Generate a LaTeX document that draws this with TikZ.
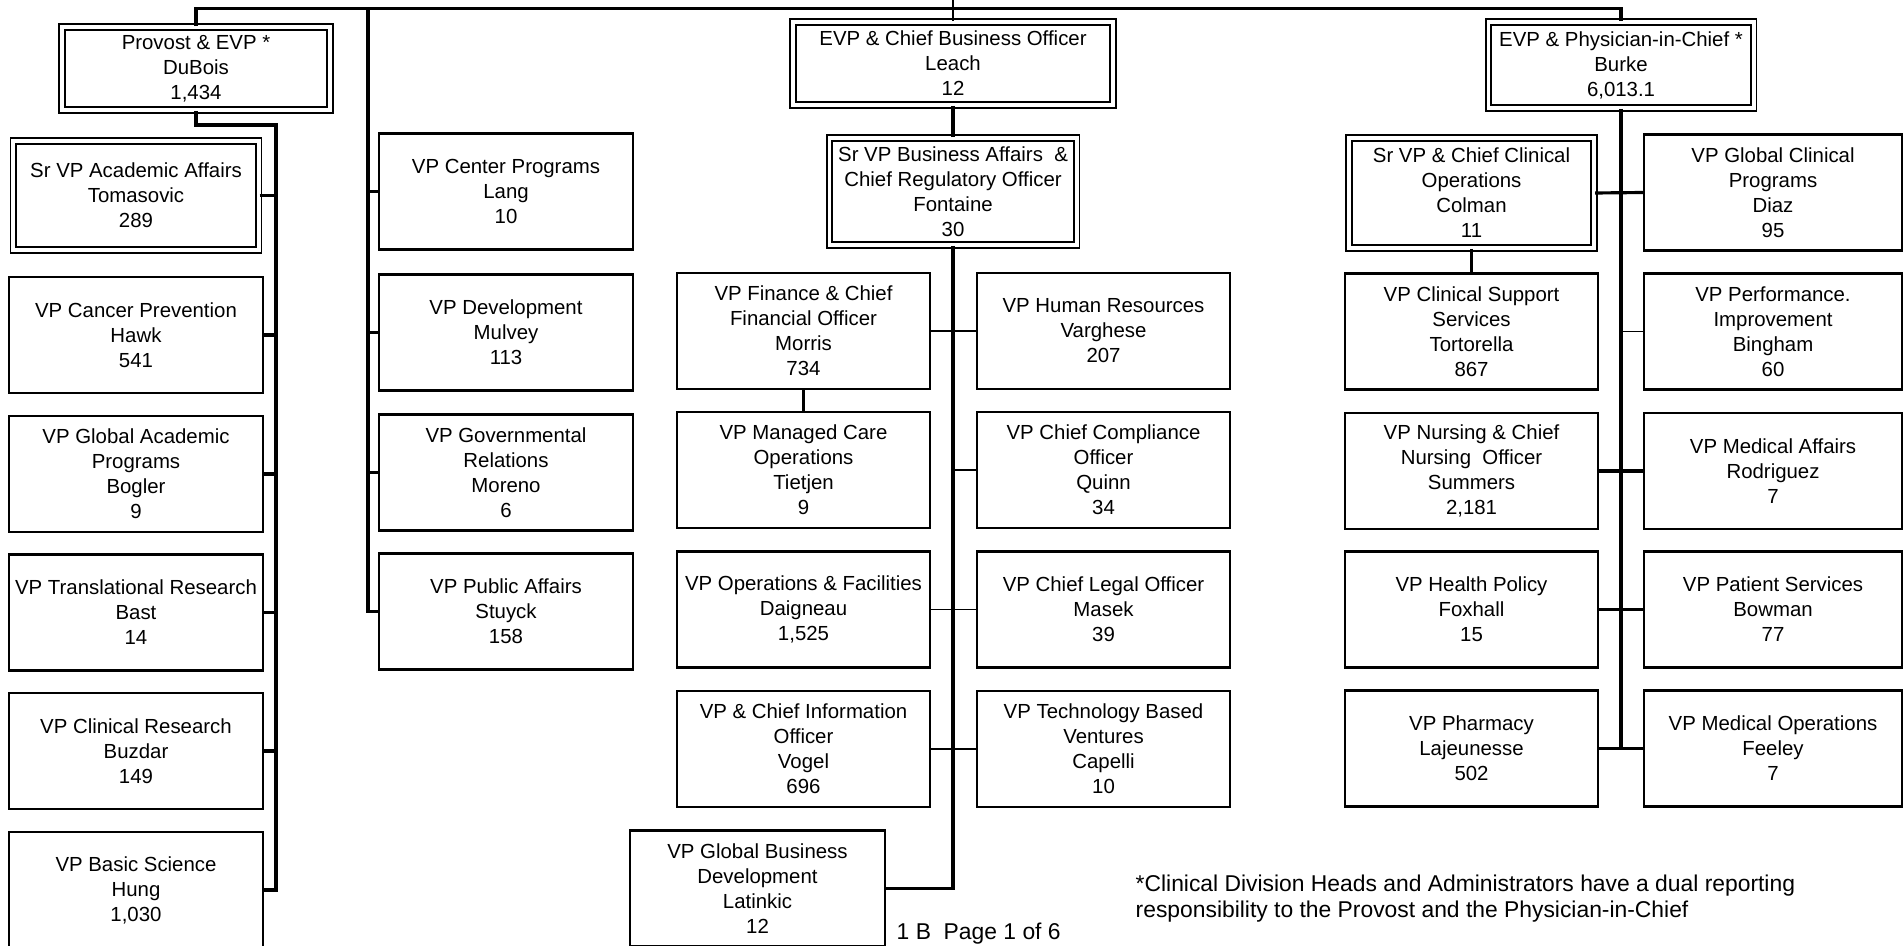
\documentclass[tikz,border=0pt]{standalone}
\usepackage{fontspec}
\setmainfont{Liberation Sans}
\usepackage{tikz}
\usetikzlibrary{calc,positioning}

\begin{document}
\begin{tikzpicture}[x=0.01cm, y=-0.01cm,
        box/.style={draw, line width=0.6pt, align=center, inner sep=0pt,
            minimum width=2.53cm, minimum height=1.16cm,
            font=\fontsize{5.8pt}{7.1pt}\selectfont},
        dbox/.style={box, double, double distance=1.1pt, line width=0.55pt},
        trunk/.style={line width=0.9pt},
        link/.style={line width=0.5pt},
        note/.style={inner sep=0pt, align=left, font=\fontsize{6.5pt}{7.4pt}\selectfont}]
                \useasboundingbox (0,0) rectangle (1904,946);
                \def\xa{136}
                \def\xb{506}
                \def\xc{803.5}
                \def\xd{1103.5}
                \def\xe{1471.5}
                \def\xf{1773}
                \coordinate (top) at (0,8.5);
                \coordinate (ceil) at (0,0);
                \coordinate (acadbus) at (276,125);
                \coordinate (adminbus) at (368,8.5);
                % top row
                \node[dbox, minimum width=2.68cm, minimum height=0.83cm] (provost) at (196,68.5) {Provost \& EVP *\\DuBois\\1,434};
                \node[dbox, minimum width=3.20cm, minimum height=0.83cm] (leach) at (953,63.5) {EVP \& Chief Business Officer\\Leach\\12};
                \node[dbox, minimum width=2.65cm, minimum height=0.86cm] (burke) at (1621,65) {EVP \& Physician-in-Chief *\\Burke\\6,013.1};
                % provost column
                \node[dbox, minimum width=2.45cm, minimum height=1.09cm] (acad) at (\xa,195.5) {Sr VP Academic Affairs\\Tomasovic\\289};
                \node[box] (cancer) at (\xa,335) {VP Cancer Prevention\\Hawk\\541};
                \node[box] (globacad) at (\xa,474) {VP Global Academic\\Programs\\Bogler\\9};
                \node[box] (transl) at (\xa,612.5) {VP Translational Research\\Bast\\14};
                \node[box] (clinres) at (\xa,751) {VP Clinical Research\\Buzdar\\149};
                \node[box] (basic) at (\xa,890) {VP Basic Science\\Hung\\1,030};
                % president's office column
                \node[box] (centprog) at (\xb,191.5) {VP Center Programs\\Lang\\10};
                \node[box] (develop) at (\xb,332.5) {VP Development\\Mulvey\\113};
                \node[box] (govrel) at (\xb,472.5) {VP Governmental\\Relations\\Moreno\\6};
                \node[box] (pubaff) at (\xb,611.5) {VP Public Affairs\\Stuyck\\158};
                % business column
                \node[dbox, minimum width=2.47cm, minimum height=1.07cm] (fontaine) at (953,191.5) {Sr VP Business Affairs\ \ \&\\Chief Regulatory Officer\\Fontaine\\30};
                \node[box] (finance) at (\xc,331) {VP Finance \& Chief\\Financial Officer\\Morris\\734};
                \node[box] (managed) at (\xc,470) {VP Managed Care\\Operations\\Tietjen\\9};
                \node[box] (opsfac) at (\xc,609.5) {VP Operations \& Facilities\\Daigneau\\1,525};
                \node[box] (cio) at (\xc,749) {VP \& Chief Information\\Officer\\Vogel\\696};
                \node[box] (hr) at (\xd,331) {VP Human Resources\\Varghese\\207};
                \node[box] (compliance) at (\xd,470) {VP Chief Compliance\\Officer\\Quinn\\34};
                \node[box] (legal) at (\xd,609.5) {VP Chief Legal Officer\\Masek\\39};
                \node[box] (techvent) at (\xd,749) {VP Technology Based\\Ventures\\Capelli\\10};
                \node[box, minimum width=2.55cm] (latinkic) at (757.5,888.5) {VP Global Business\\Development\\Latinkic\\12};
                % clinical column
                \node[dbox, minimum width=2.45cm, minimum height=1.10cm] (colman) at (\xe,193) {Sr VP \& Chief Clinical\\Operations\\Colman\\11};
                \node[box] (clinsup) at (\xe,331.5) {VP Clinical Support\\Services\\Tortorella\\867};
                \node[box] (nursing) at (\xe,471) {VP Nursing \& Chief\\Nursing\ \ Officer\\Summers\\2,181};
                \node[box] (healthpol) at (\xe,609.5) {VP Health Policy\\Foxhall\\15};
                \node[box] (pharmacy) at (\xe,748.5) {VP Pharmacy\\Lajeunesse\\502};
                \node[box, minimum width=2.58cm] (globclin) at (\xf,192.5) {VP Global Clinical\\Programs\\Diaz\\95};
                \node[box, minimum width=2.58cm] (perform) at (\xf,331.5) {VP Performance.\\Improvement\\Bingham\\60};
                \node[box, minimum width=2.58cm] (medaff) at (\xf,471) {VP Medical Affairs\\Rodriguez\\7};
                \node[box, minimum width=2.58cm] (patserv) at (\xf,609.5) {VP Patient Services\\Bowman\\77};
                \node[box, minimum width=2.58cm] (medops) at (\xf,748.5) {VP Medical Operations\\Feeley\\7};
                % connectors
                \draw[trunk] (provost.north) |- (burke.north |- top) -- (burke.north);
                \draw[link] (leach.north) -- (leach.north |- ceil);
                \draw[trunk] (adminbus) -- (adminbus |- pubaff.west) -- (pubaff.west);
                \foreach \n in {centprog,develop,govrel}
                    \draw[trunk] (\n.west) -- (\n.west -| adminbus);
                \draw[trunk] (provost.south) |- (acadbus) -- (acadbus |- basic.east) -- (basic.east);
                \foreach \n in {acad,cancer,globacad,transl,clinres}
                    \draw[trunk] (\n.east) -- (\n.east -| acadbus);
                \draw[trunk] (leach.south) -- (fontaine.north);
                \draw[trunk] (fontaine.south) |- (latinkic.east);
                \draw[trunk] (finance.south) -- (managed.north);
                \foreach \l/\r in {finance/hr,opsfac/legal,cio/techvent}
                    \draw[link] (\l.east) -- (\r.west);
                \draw[link] (compliance.west) -- (compliance.west -| fontaine.south);
                \draw[trunk] (burke.south) -- (burke.south |- pharmacy.east);
                \foreach \l/\r in {colman/globclin,nursing/medaff,healthpol/patserv,pharmacy/medops}
                    \draw[trunk] (\l.east) -- (\r.west);
                \draw[link] (perform.west) -- (perform.west -| burke.south);
                \draw[trunk] (colman.south) -- (clinsup.north);
                % footnote and page label
                \node[note, anchor=north west] (footnote) at (1135,874) {*Clinical Division Heads and Administrators have a dual reporting\\responsibility to the Provost and the Physician-in-Chief};
                \node[note, anchor=base west] (pagelabel) at (896,939) {1 B\ \ Page 1 of 6};
            \end{tikzpicture}
\end{document}
